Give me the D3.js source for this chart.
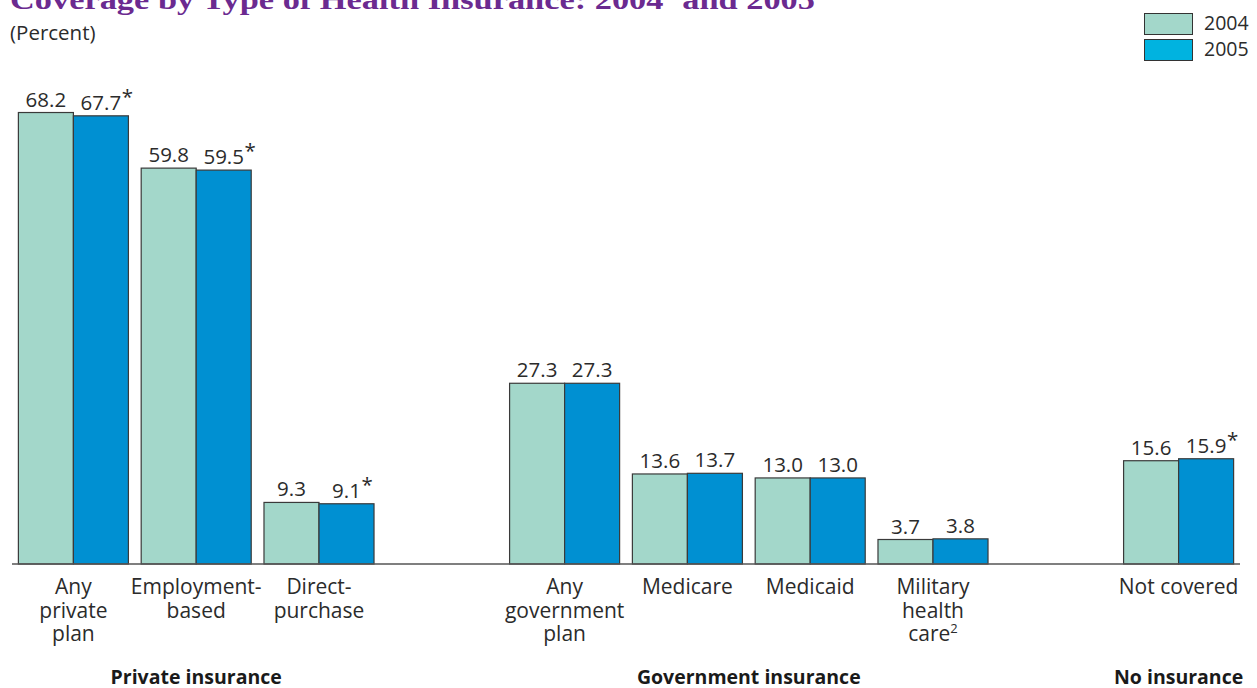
<!DOCTYPE html>
<html>
<head>
<meta charset="utf-8">
<script src="https://cdn.jsdelivr.net/npm/d3@7"></script>
<style>
  body { margin: 0; background: #fff; }
  svg { display: block; font-family: "Open Sans", "DejaVu Sans", sans-serif; }
  .val { font-size: 20.5px; fill: #2b2b2b; }
  .cat { font-size: 21px; fill: #2b2b2b; }
  .grp { font-size: 19.5px; font-weight: bold; fill: #1a1a1a; }
</style>
</head>
<body>
<div id="chart-area"></div>
<script>
// Chart data
const categories = ["Any private plan", "Employment-based", "Direct-purchase",
    "Any government plan", "Medicare", "Medicaid", "Military health care", "Not covered"];
const values2004 = [68.2, 59.8, 9.3, 27.3, 13.6, 13.0, 3.7, 15.6];
const values2005 = [67.7, 59.5, 9.1, 27.3, 13.7, 13.0, 3.8, 15.9];
const starred2005 = [true, true, true, false, false, false, false, true];
const labelLines = [["Any", "private", "plan"], ["Employment-", "based"], ["Direct-", "purchase"],
    ["Any", "government", "plan"], ["Medicare"], ["Medicaid"], ["Military", "health", "care"], ["Not covered"]];
const labelSup = ["", "", "", "", "", "", "2", ""];
const groupNames = ["Private insurance", "Government insurance", "No insurance"];
const groupOf = [0, 0, 0, 1, 1, 1, 1, 2];
const years = ["2004", "2005"];

const colors = {"2004": "#a3d7ca", "2005": "#0090d2"};
const legendColors = {"2004": "#a3d7ca", "2005": "#00b3e0"};

let width = 1257, height = 688;
let baseY = 564;

let svg = d3.select("#chart-area").append("svg")
    .attr("width", width)
    .attr("height", height);

// slots, with two empty ones between the groups
let slots = categories.slice(0, 3).concat(["gap1"], categories.slice(3, 7), ["gap2"], categories.slice(7));

let x0 = d3.scaleBand()
    .domain(slots)
    .range([12, 1240])
    .paddingInner(0.104)
    .paddingOuter(0.052);

let x1 = d3.scaleBand()
    .domain(years)
    .range([0, x0.bandwidth()]);

let y = d3.scaleLinear()
    .domain([0, 70])
    .range([baseY, baseY - 70 * 6.62]);

let data = categories.map((c, i) => ({
    cat: c,
    vals: [
        {year: "2004", v: values2004[i], star: false},
        {year: "2005", v: values2005[i], star: starred2005[i]}
    ]
}));

// Title (partly cut off at the top, like the original)
svg.append("text")
    .attr("x", 10)
    .attr("y", 9)
    .attr("font-family", "'Liberation Serif', 'DejaVu Serif', serif")
    .attr("font-weight", "bold")
    .attr("font-size", 27)
    .attr("fill", "#6b2a90")
    .attr("textLength", 805)
    .attr("lengthAdjust", "spacingAndGlyphs")
    .text("Coverage by Type of Health Insurance: 2004")
    .append("tspan")
    .attr("dy", -10)
    .attr("font-size", 16)
    .text("1")
    .append("tspan")
    .attr("dy", 10)
    .attr("font-size", 27)
    .text(" and 2005");

svg.append("text")
    .attr("x", 10)
    .attr("y", 40)
    .attr("font-size", 20.5)
    .attr("fill", "#2b2b2b")
    .text("(Percent)");

// Legend
let legend = svg.append("g");
years.forEach((yr, i) => {
    legend.append("rect")
        .attr("x", 1144.5)
        .attr("y", 13.5 + i * 26)
        .attr("width", 48)
        .attr("height", 21)
        .attr("fill", legendColors[yr])
        .attr("stroke", "#333")
        .attr("stroke-width", 1);
    legend.append("text")
        .attr("x", 1204)
        .attr("y", 30 + i * 26)
        .attr("font-size", 19.5)
        .attr("fill", "#2b2b2b")
        .text(yr);
});

// Bars
let groups = svg.selectAll(".cat-group")
    .data(data)
    .enter().append("g")
    .attr("class", "cat-group")
    .attr("transform", d => "translate(" + x0(d.cat) + ",0)");

groups.selectAll("rect")
    .data(d => d.vals)
    .enter().append("rect")
    .attr("x", d => x1(d.year))
    .attr("y", d => y(d.v))
    .attr("width", x1.bandwidth())
    .attr("height", d => baseY - y(d.v))
    .attr("fill", d => colors[d.year])
    .attr("stroke", "#3a3a3a")
    .attr("stroke-width", 1.2);

// Value labels
let fmt = d3.format(".1f");
groups.selectAll(".val")
    .data(d => d.vals)
    .enter().append("text")
    .attr("class", "val")
    .attr("x", d => x1(d.year) + x1.bandwidth() / 2)
    .attr("y", d => y(d.v) - 6)
    .attr("text-anchor", "middle")
    .text(d => fmt(d.v))
    .each(function(d) {
        if (!d.star) return;
        let w = this.getComputedTextLength();
        d3.select(this.parentNode).append("text")
            .attr("class", "val")
            .attr("x", x1(d.year) + x1.bandwidth() / 2 + w / 2 + 0.5)
            .attr("y", y(d.v) - 12)
            .attr("font-size", 12)
            .text("*");
    });

// Axis baseline
svg.append("line")
    .attr("x1", x0.range()[0])
    .attr("x2", x0.range()[1])
    .attr("y1", baseY)
    .attr("y2", baseY)
    .attr("stroke", "#555")
    .attr("stroke-width", 1.5);

// Category labels
groups.each(function(d, i) {
    let t = d3.select(this).append("text")
        .attr("class", "cat")
        .attr("text-anchor", "middle");
    labelLines[i].forEach((line, j) => {
        let ts = t.append("tspan")
            .attr("x", x0.bandwidth() / 2)
            .attr("y", 594 + j * 23.5)
            .text(line);
        if (j === labelLines[i].length - 1 && labelSup[i]) {
            ts.append("tspan")
                .attr("dy", -8)
                .attr("font-size", 13)
                .text(labelSup[i]);
        }
    });
});

// Group titles
groupNames.forEach((g, gi) => {
    let cats = categories.filter((c, i) => groupOf[i] === gi);
    let left = x0(cats[0]);
    let right = x0(cats[cats.length - 1]) + x0.bandwidth();
    svg.append("text")
        .attr("class", "grp")
        .attr("x", (left + right) / 2)
        .attr("y", 684)
        .attr("text-anchor", "middle")
        .text(g);
});
</script>
</body>
</html>
